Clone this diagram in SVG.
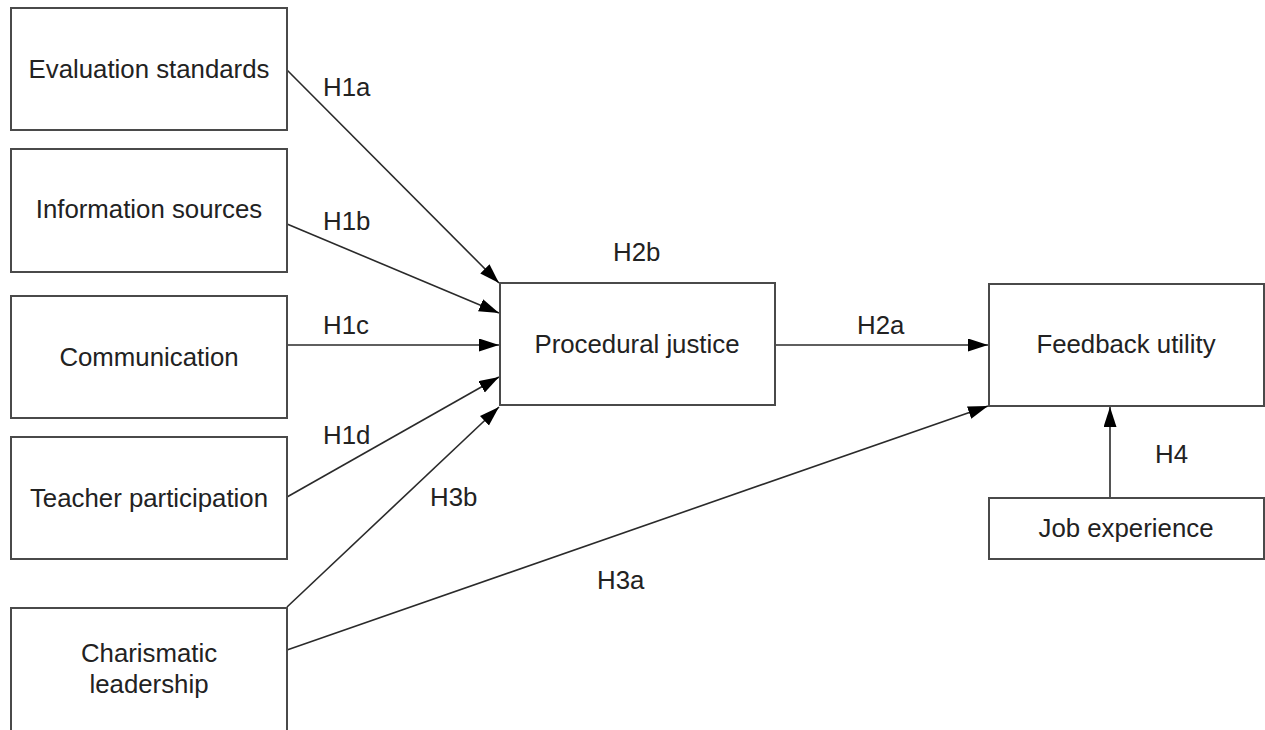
<svg xmlns="http://www.w3.org/2000/svg" width="1265" height="730" viewBox="0 0 1265 730">
<style>
.box{fill:#fff;stroke:#4a4a4a;stroke-width:2}
.t{font-family:"Liberation Sans",Arial,sans-serif;font-size:25.8px;fill:#222;text-anchor:middle}
.l{font-family:"Liberation Sans",Arial,sans-serif;font-size:25.8px;fill:#222}
.c{stroke:#2a2a2a;stroke-width:1.6;fill:none;marker-end:url(#ah)}
</style>
<defs>
<marker id="ah" markerUnits="userSpaceOnUse" markerWidth="20" markerHeight="14" refX="20" refY="6.5" orient="auto">
<path d="M0,0 L20,6.5 L0,13 z" fill="#000"/>
</marker>
</defs>
<rect width="1265" height="730" fill="#fff"/>
<g id="connectors">
<line class="c" x1="287" y1="70" x2="499" y2="283"/>
<line class="c" x1="287" y1="224" x2="499" y2="313"/>
<line class="c" x1="287" y1="345" x2="499" y2="345"/>
<line class="c" x1="287" y1="497" x2="499" y2="377"/>
<line class="c" x1="287" y1="607" x2="499" y2="407"/>
<line class="c" x1="287" y1="650" x2="988" y2="406"/>
<line class="c" x1="775" y1="345" x2="988" y2="345"/>
<line class="c" x1="1110" y1="498" x2="1110" y2="407"/>
</g>
<g id="labels">
<text class="l" x="323" y="96">H1a</text>
<text class="l" x="323" y="230">H1b</text>
<text class="l" x="323" y="334">H1c</text>
<text class="l" x="323" y="444">H1d</text>
<text class="l" x="430" y="506">H3b</text>
<text class="l" x="613" y="261">H2b</text>
<text class="l" x="857" y="334">H2a</text>
<text class="l" x="1155" y="463">H4</text>
<text class="l" x="597" y="589">H3a</text>
</g>
<g id="n1"><rect class="box" x="11" y="8" width="276" height="122"/><text class="t" x="149" y="78">Evaluation standards</text></g>
<g id="n2"><rect class="box" x="11" y="149" width="276" height="123"/><text class="t" x="149" y="218">Information sources</text></g>
<g id="n3"><rect class="box" x="11" y="296" width="276" height="122"/><text class="t" x="149" y="366">Communication</text></g>
<g id="n4"><rect class="box" x="11" y="437" width="276" height="122"/><text class="t" x="149" y="507">Teacher participation</text></g>
<g id="n5"><rect class="box" x="11" y="608" width="276" height="125"/><text class="t" x="149" y="662">Charismatic</text><text class="t" x="149" y="693">leadership</text></g>
<g id="n6"><rect class="box" x="500" y="283" width="275" height="122"/><text class="t" x="637" y="353">Procedural justice</text></g>
<g id="n7"><rect class="box" x="989" y="284" width="275" height="122"/><text class="t" x="1126" y="353">Feedback utility</text></g>
<g id="n8"><rect class="box" x="989" y="498" width="275" height="61"/><text class="t" x="1126" y="537">Job experience</text></g>
</svg>
